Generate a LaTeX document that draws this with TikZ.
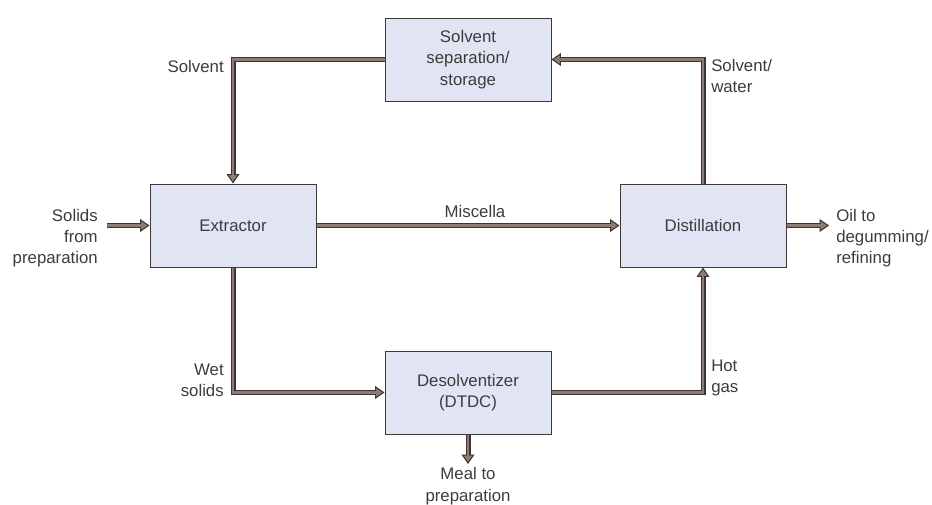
\documentclass[tikz,border=0pt]{standalone}
\usepackage{fontspec}
\setmainfont{Liberation Sans}
\usetikzlibrary{arrows.meta}
\definecolor{boxfill}{HTML}{E1E4F3}
\definecolor{boxline}{HTML}{3A3A3A}
\definecolor{fdark}{HTML}{3F3431}
\definecolor{ftaupe}{HTML}{8C7C75}
\definecolor{txt}{HTML}{3C3C3C}
\begin{document}
\begin{tikzpicture}[x=0.75pt,y=-0.75pt,
  every node/.style={font=\fontsize{12.6pt}{16pt}\selectfont, text=txt},
  unit/.style={draw=boxline, line width=0.75pt, fill=boxfill, minimum width=124.5pt, minimum height=62.25pt, inner sep=0pt, align=center},
  lbl/.style={inner sep=0pt},
  flow/.style={draw=fdark, line width=3.75pt, line join=miter,
    -{Triangle[length=7pt,width=9.5pt,line width=0.75pt,fill=ftaupe,color=fdark]},
    postaction={draw=ftaupe, line width=2.1pt, -, shorten >=6pt}}
]
\useasboundingbox (0,0) rectangle (932,504);
\node[unit] (sep) at (468,59.5) {Solvent\\separation/\\storage};
\node[unit] (ext) at (233,225.5) {Extractor};
\node[unit] (dist) at (703,225.5) {Distillation};
\node[unit] (des) at (468,392.5) {Desolventizer\\(DTDC)};
\coordinate (sin) at (107,225.5);
\coordinate (oout) at (829,225.5);
\coordinate (mout) at (468,464);
\draw[flow] (sin) -- (ext.west);
\draw[flow] (ext.east) -- (dist.west);
\draw[flow] (dist.east) -- (oout);
\draw[flow] (sep.west) -| (ext.north);
\draw[flow] (dist.north) |- (sep.east);
\draw[flow] (ext.south) |- (des.west);
\draw[flow] (des.east) -| (dist.south);
\draw[flow] (des.south) -- (mout);
\node[lbl, align=right, anchor=east] (l1) at (98,238) {Solids\\from\\preparation};
\node[lbl] (l2) at (475,211) {Miscella};
\node[lbl, align=left, anchor=west] (l3) at (836,238) {Oil to\\degumming/\\refining};
\node[lbl, anchor=east] (l4) at (224,66) {Solvent};
\node[lbl, align=left, anchor=west] (l5) at (711,76) {Solvent/\\water};
\node[lbl, align=right, anchor=east] (l6) at (224,380) {Wet\\solids};
\node[lbl, align=left, anchor=west] (l7) at (711,378) {Hot\\gas};
\node[lbl, align=center] (l8) at (468,486) {Meal to\\preparation};
\end{tikzpicture}
\end{document}
